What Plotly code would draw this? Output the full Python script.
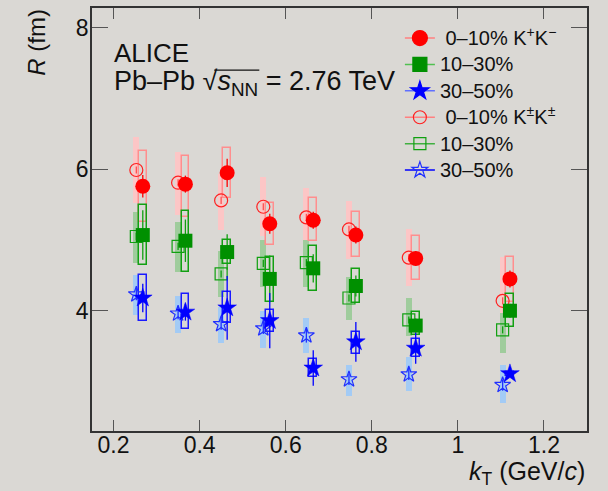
import plotly.graph_objects as go

# ---------------- data ----------------
kt_pm = [0.268, 0.367, 0.464, 0.563, 0.664, 0.763, 0.902, 1.121]   # K+K- points
kt_ss = [0.253, 0.350, 0.450, 0.548, 0.648, 0.747, 0.886, 1.104]   # K±K± points

# 0-10% K+K-
r010_pm = [5.76, 5.79, 5.95, 5.23, 5.28, 5.07, 4.74, 4.45]
r010_pm_stat = [0.16, 0.12, 0.20, 0.14, 0.12, 0.12, 0.10, 0.12]
r010_pm_lo = [5.26, 5.33, 5.60, 4.93, 4.98, 4.76, 4.44, 4.13]
r010_pm_hi = [6.26, 6.19, 6.30, 5.52, 5.59, 5.39, 5.06, 4.76]
# 10-30% K+K-
r1030_pm = [5.07, 4.99, 4.83, 4.45, 4.60, 4.35, 3.79, 4.00]
r1030_pm_stat = [0.35, 0.30, 0.25, 0.33, 0.20, 0.15, 0.10, 0.10]
r1030_pm_lo = [4.64, 4.55, 4.66, 4.12, 4.28, 4.11, 3.66, 3.77]
r1030_pm_hi = [5.50, 5.41, 5.00, 4.76, 4.91, 4.59, 3.98, 4.23]
# 30-50% K+K-
r3050_pm = [4.18, 3.98, 4.04, 3.86, 3.19, 3.56, 3.47, 3.11]
r3050_pm_stat = [0.20, 0.12, 0.45, 0.39, 0.25, 0.28, 0.22, 0.04]
r3050_pm_lo = [3.85, 3.74, 3.82, 3.70, 3.07, 3.39, 3.34, 3.08]
r3050_pm_hi = [4.51, 4.24, 4.26, 4.01, 3.32, 3.70, 3.60, 3.14]

# 0-10% K±K±
r010_ss = [5.99, 5.81, 5.56, 5.47, 5.32, 5.15, 4.75, 4.14]
r010_ss_stat = [0.05, 0.05, 0.05, 0.05, 0.05, 0.05, 0.05, 0.05]
r010_ss_lo = [5.53, 5.35, 5.14, 5.05, 5.00, 4.73, 4.35, 3.97]
r010_ss_hi = [6.45, 6.24, 5.94, 5.89, 5.73, 5.55, 5.15, 4.76]
# 10-30% K±K±
r1030_ss = [5.05, 4.91, 4.52, 4.67, 4.68, 4.18, 3.87, 3.73]
r1030_ss_stat = [0.05, 0.05, 0.05, 0.05, 0.05, 0.05, 0.05, 0.05]
r1030_ss_lo = [4.67, 4.55, 4.20, 4.34, 4.34, 3.87, 3.64, 3.40]
r1030_ss_hi = [5.39, 5.26, 4.84, 5.00, 5.00, 4.48, 4.18, 3.97]
# 30-50% K±K±
r3050_ss = [4.23, 3.96, 3.81, 3.75, 3.65, 3.03, 3.10, 2.95]
r3050_ss_stat = [0.08, 0.08, 0.08, 0.08, 0.10, 0.08, 0.08, 0.08]
r3050_ss_lo = [3.94, 3.69, 3.55, 3.48, 3.40, 2.80, 2.87, 2.69]
r3050_ss_hi = [4.50, 4.21, 4.05, 3.99, 3.90, 3.24, 3.35, 3.23]

legend_labels = [" 0\u201310% K<sup>+</sup>K<sup>\u2212</sup>", "10\u201330%", "30\u201350%",
                 " 0\u201310% K<sup>\u00b1</sup>K<sup>\u00b1</sup>", "10\u201330%", "30\u201350%"]

FONT = "Liberation Sans, Arial, sans-serif"
BG = "#dad8d4"

fig = go.Figure()


def band(x, lo, hi, color, width):
    fig.add_trace(go.Bar(x=x, base=lo, y=[h - l for h, l in zip(hi, lo)], width=width,
                         marker=dict(color=color, line=dict(width=0)),
                         showlegend=False, hoverinfo="skip"))


def box(x, lo, hi, color, width):
    fig.add_trace(go.Bar(x=x, base=lo, y=[h - l for h, l in zip(hi, lo)], width=width,
                         marker=dict(color="rgba(0,0,0,0)", line=dict(width=1.5, color=color)),
                         showlegend=False, hoverinfo="skip"))


# systematic bands for K±K± (filled light)
band(kt_ss, r010_ss_lo, r010_ss_hi, "#fcc6c6", 0.014)
band(kt_ss, r1030_ss_lo, r1030_ss_hi, "#9fcc9c", 0.014)
band(kt_ss, r3050_ss_lo, r3050_ss_hi, "#a3cbf5", 0.014)
# systematic boxes for K+K- (open)
box(kt_pm, r010_pm_lo, r010_pm_hi, "#ff8e8e", 0.018)
box(kt_pm, r1030_pm_lo, r1030_pm_hi, "#12a012", 0.018)
box(kt_pm, r3050_pm_lo, r3050_pm_hi, "#1a1aff", 0.018)


def pts(x, y, err, symbol, color, size, ecolor, lw=1.5):
    fig.add_trace(go.Scatter(x=x, y=y, mode="markers",
                             marker=dict(symbol=symbol, color=color, size=size,
                                         line=dict(width=lw, color=color)),
                             error_y=dict(type="data", array=err, color=ecolor, thickness=1.3, width=0),
                             showlegend=False, hoverinfo="skip"))


pts(kt_ss, r010_ss, r010_ss_stat, "circle-open", "#ff2020", 13, "#ff5050", 1.2)
pts(kt_ss, r1030_ss, r1030_ss_stat, "square-open", "#10a010", 12, "#10a010", 1.2)
pts(kt_ss, r3050_ss, r3050_ss_stat, "star-open", "#2030ff", 12, "#2030ff", 1.2)
pts(kt_pm, r010_pm, r010_pm_stat, "circle", "#ff0000", 15, "#ff0000", 0)
pts(kt_pm, r1030_pm, r1030_pm_stat, "square", "#009000", 14, "#10a010", 0)
pts(kt_pm, r3050_pm, r3050_pm_stat, "star", "#0000ff", 14, "#0000ff", 0.5)

# legend entries (line through marker)
leg_styles = [("circle", "#ff0000", "#ff8080", 15), ("square", "#009000", "#50c050", 14),
              ("star", "#0000ff", "#6070ff", 14), ("circle-open", "#ff2020", "#ff8080", 13),
              ("square-open", "#10a010", "#40b040", 12), ("star-open", "#2030ff", "#0000ff", 12)]
for lab, (sym, c, lc, s) in zip(legend_labels, leg_styles):
    fig.add_trace(go.Scatter(x=[None], y=[None], mode="lines+markers",
                             name="<span style='font-size:20px'>" + lab + "</span>",
                             marker=dict(symbol=sym, color=c, size=s, line=dict(width=1.2, color=c)),
                             line=dict(color=lc, width=1.5)))

axis_common = dict(showline=True, linecolor="#333", linewidth=1.6, mirror="ticks",
                   ticks="inside", tickcolor="#555", tickwidth=1.2, showgrid=False, zeroline=False,
                   tickfont=dict(family=FONT, size=23, color="#111"))

fig.update_layout(
    width=608, height=491,
    margin=dict(l=92, r=21, t=6, b=60),
    paper_bgcolor=BG, plot_bgcolor=BG,
    barmode="overlay", bargap=0,
    font=dict(family=FONT, color="#111"),
    xaxis=dict(range=[0.15, 1.3], tick0=0.2, dtick=0.2, ticklen=11, ticklabelstandoff=-7,
               **axis_common),
    yaxis=dict(range=[2.3, 8.28], tick0=0, dtick=2, ticklen=16, ticklabelstandoff=-3,
               **axis_common),
    legend=dict(x=0.622, y=0.972, xanchor="left", yanchor="top", bgcolor="rgba(0,0,0,0)",
                font=dict(family=FONT, size=18, color="#111"), tracegroupgap=0,
                itemwidth=30),
    showlegend=True,
)

fig.add_annotation(text="<i>R</i> (fm)", xref="paper", yref="paper", x=-0.111, y=0.918,
                   xanchor="center", yanchor="middle", textangle=-90, showarrow=False,
                   font=dict(family=FONT, size=24, color="#111"))
fig.add_annotation(text="<i>k</i><sub>T</sub> (GeV/<i>c</i>)", xref="paper", yref="paper",
                   x=1.0, y=-0.099, xanchor="right", yanchor="middle", showarrow=False,
                   font=dict(family=FONT, size=25, color="#111"))
fig.add_annotation(text="ALICE", xref="paper", yref="paper", x=0.041, y=0.894,
                   xanchor="left", yanchor="middle", showarrow=False,
                   font=dict(family=FONT, size=26, color="#111"))
fig.add_annotation(text="Pb\u2013Pb \u221a<i>s</i><sub>NN</sub> = 2.76 TeV", xref="paper", yref="paper",
                   x=0.041, y=0.822, xanchor="left", yanchor="middle", showarrow=False,
                   font=dict(family=FONT, size=27, color="#111"))
# overline of the square root
fig.add_shape(type="line", xref="paper", yref="paper", x0=0.247, x1=0.338, y0=0.853, y1=0.853,
              line=dict(color="#111", width=1.2))

fig.write_html("out.html", config={"displayModeBar": False},
               post_script="document.body.style.margin='0';document.body.style.padding='0';")
